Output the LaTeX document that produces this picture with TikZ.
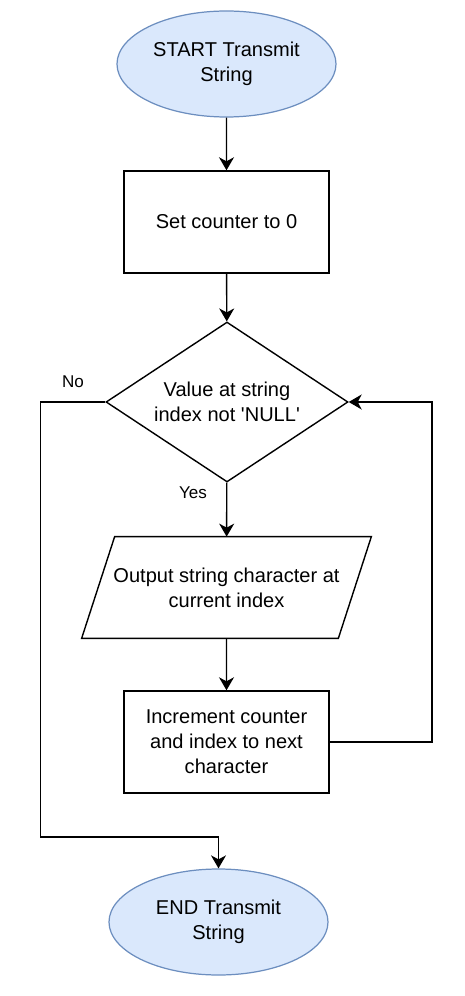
\documentclass[tikz,border=0pt]{standalone}
\usepackage{fontspec}
\setmainfont{Liberation Sans}
\usetikzlibrary{shapes.geometric,arrows.meta}
\definecolor{termfill}{HTML}{DAE8FC}
\definecolor{termline}{HTML}{6C8EBF}

\begin{document}
\begin{tikzpicture}[scale=0.2,
    term/.style={ellipse,draw=termline,fill=termfill,line width=0.7pt,minimum width=4.38cm,minimum height=2.12cm,align=center},
    proc/.style={rectangle,draw,line width=0.8pt,minimum width=4.1cm,minimum height=2.04cm,align=center},
    dec/.style={diamond,draw,line width=0.8pt,aspect=1.5,minimum width=4.84cm,minimum height=3.2cm,align=center},
    io/.style={rectangle,minimum width=5.12cm,minimum height=2.02cm,align=center},
    flow/.style={line width=0.8pt,-{Stealth[length=2.6mm,width=3mm,inset=0.8mm]}},
    lbl/.style={font=\fontsize{9.7}{12}\selectfont}]
                \tikzstyle{every node}+=[inner sep=0pt,font=\fontsize{11.4}{14.2}\selectfont]
                \useasboundingbox (0,0) rectangle (46.4,-99.6);
                \node [term] (start) at (22.65,-6.4) {START Transmit\\String};
                \node [proc] (setc) at (22.65,-22.2) {Set counter to 0};
                \node [dec] (cond) at (22.7,-40.2) {Value at string\\index not \textquotesingle NULL\textquotesingle};
                \node [io] (out) at (22.65,-58.75) {Output string character at\\current index};
                \draw [line width=0.8pt] ([xshift=-1.65cm]out.south west) -- ([xshift=-1.65cm]out.south east) -- ([xshift=1.65cm]out.north east) -- ([xshift=1.65cm]out.north west) -- cycle;
                \node [proc] (incr) at (22.65,-74.2) {Increment counter\\and index to next\\character};
                \node [term] (end) at (21.85,-92.2) {END Transmit\\String};
                \coordinate (loopR) at (43.2,-40.2);
                \coordinate (loopL) at (4.07,-83.7);
                \draw [flow] (start) -- (setc);
                \draw [flow] (setc) -- (cond);
                \draw [flow] (cond) -- (out);
                \node [lbl] (yes) at (19.3,-49.3) {Yes};
                \draw [flow] (out) -- (incr);
                \draw [flow] (incr.east) -| (loopR) -- (cond.east);
                \draw [flow] (cond.west) -| (loopL) -| (end.north);
                \node [lbl] (no) at (7.3,-38.2) {No};
              \end{tikzpicture}
\end{document}
